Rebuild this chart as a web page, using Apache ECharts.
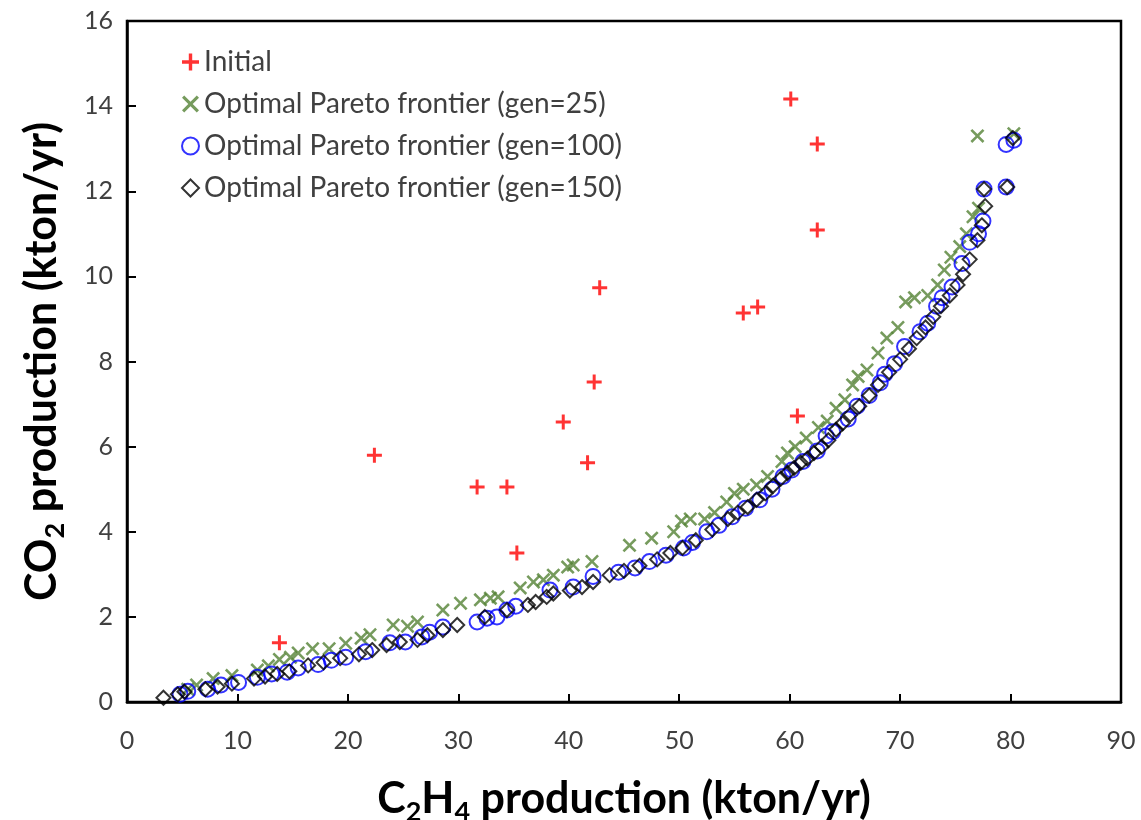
<!DOCTYPE html>
<html>
<head>
<meta charset="utf-8">
<script src="https://cdn.jsdelivr.net/npm/echarts@6/dist/echarts.min.js"></script>
<style>html,body{margin:0;padding:0;background:#fff;}#c{width:1141px;height:820px;}</style>
</head>
<body>
<div id="c"></div>
<script>
// ---- data (C2H4 production, CO2 production) ----
const initialPts = [
  [13.8,1.39],[22.4,5.80],[31.7,5.05],[34.4,5.05],[35.3,3.50],[39.5,6.58],[41.7,5.62],
  [42.3,7.52],[42.8,9.73],[55.8,9.14],[57.1,9.28],[60.7,6.72],[60.1,14.17],[62.5,13.11],[62.5,11.09]
];
const gen25Pts = [
  [5.5,0.3],[6.3,0.4],[7.8,0.55],[9.5,0.62],[11.8,0.75],[12.8,0.85],[13.8,1.0],[14.8,1.05],[15.5,1.15],
  [16.8,1.25],[18.3,1.25],[19.8,1.38],[21.2,1.5],[22,1.58],[24.1,1.81],[25.4,1.78],[26.3,1.88],[28.6,2.16],
  [30.2,2.32],[32,2.4],[32.9,2.44],[33.6,2.47],[35.6,2.68],[36.8,2.82],[37.7,2.87],[38.6,2.98],[39.9,3.17],
  [40.4,3.22],[42.1,3.3],[45.5,3.68],[47.5,3.85],[49.5,4.0],[50.2,4.25],[51,4.3],[52.3,4.3],[53.2,4.45],
  [54.3,4.7],[55,4.9],[55.8,5.0],[57,5.1],[58,5.3],[59.3,5.65],[59.8,5.85],[60.5,6.0],[61.5,6.2],[62.6,6.45],
  [63.4,6.6],[64.2,6.9],[65,7.1],[65.7,7.45],[66.2,7.65],[67,7.8],[68,8.2],[68.8,8.55],[69.8,8.8],[70.5,9.4],
  [71.3,9.5],[72.5,9.55],[73.4,9.8],[74,10.15],[74.6,10.45],[75.4,10.7],[76,11.0],[76.6,11.4],[77.1,11.6],
  [77,13.3],[80.3,13.35]
];
const gen100Pts = [
  [4.8,0.18],[5.5,0.25],[7.3,0.3],[8.5,0.4],[10.1,0.46],[11.8,0.58],[13.1,0.66],[14.5,0.7],[15.5,0.8],
  [17.3,0.88],[18.5,0.98],[19.8,1.05],[21.6,1.18],[23.8,1.39],[25.2,1.41],[26.7,1.53],[27.4,1.64],[28.6,1.76],
  [31.7,1.88],[32.6,1.97],[33.5,2.0],[34.4,2.16],[35.2,2.25],[38.3,2.63],[40.4,2.7],[42.2,2.95],[44.5,3.05],
  [46,3.15],[47.3,3.3],[48.8,3.45],[50.4,3.62],[51.2,3.75],[52.5,4.0],[53.6,4.15],[54.8,4.35],[56,4.55],
  [57.3,4.75],[58.4,5.0],[59.4,5.3],[60.2,5.45],[61.2,5.65],[62.5,5.9],[63.3,6.25],[63.9,6.35],[65.3,6.65],
  [66.1,6.95],[67.2,7.2],[68.2,7.5],[68.6,7.7],[69.5,7.95],[70.4,8.35],[71.8,8.7],[72.5,8.9],[73.3,9.3],
  [73.8,9.5],[74.7,9.75],[75.6,10.3],[76.3,10.8],[77.1,11.0],[77.5,11.3],[77.6,12.05],[79.6,13.1],[80.3,13.2],[79.6,12.1]
];
const gen150Pts = [
  [3.3,0.1],[4.6,0.18],[5.2,0.24],[7.1,0.3],[8.2,0.36],[9.5,0.43],[11.5,0.55],[12.5,0.6],[13.6,0.66],[14.7,0.72],
  [16.4,0.86],[17.8,0.93],[19.3,1.03],[21,1.12],[22.2,1.22],[23.5,1.34],[24.7,1.41],[26.3,1.46],[27.2,1.57],
  [28.6,1.69],[29.9,1.81],[32.4,2.0],[34.4,2.16],[36.3,2.28],[37,2.35],[38,2.47],[38.6,2.55],[40.1,2.62],
  [41.2,2.7],[42.2,2.82],[43.7,2.98],[45,3.08],[46.4,3.2],[48,3.35],[49.2,3.5],[50.3,3.62],[51.5,3.8],[53,4.05],
  [54.4,4.3],[55.3,4.45],[56.2,4.58],[57,4.75],[57.8,4.9],[58.5,5.08],[59.2,5.25],[59.8,5.38],[60.4,5.5],
  [61,5.62],[61.6,5.72],[62.2,5.85],[62.9,6.0],[63.5,6.15],[64.2,6.4],[64.8,6.55],[65.5,6.75],[66.3,6.95],
  [67.2,7.2],[68,7.45],[69,7.75],[70,8.05],[70.8,8.3],[71.5,8.55],[72.3,8.8],[73,9.05],[73.7,9.3],[74.5,9.55],
  [75.2,9.8],[75.7,10.05],[76.3,10.4],[77,10.85],[77.4,11.2],[77.7,11.65],[77.6,12.05],[79.7,12.1],[80.2,13.25]
];
const seriesNames = [
  'Initial',
  'Optimal Pareto frontier (gen=25)',
  'Optimal Pareto frontier (gen=100)',
  'Optimal Pareto frontier (gen=150)'
];
const xTicks = {min: 0, max: 90, interval: 10};
const yTicks = {min: 0, max: 16, interval: 2};

const plusPath = 'path://M4,0h2v4h4v2h-4v4h-2v-4h-4v-2h4z';
const crossPath = 'path://M0,1.3L1.3,0L5,3.7L8.7,0L10,1.3L6.3,5L10,8.7L8.7,10L5,6.3L1.3,10L0,8.7L3.7,5Z';
const FONT = 'Lato';
const chart = echarts.init(document.getElementById('c'), null, {renderer: 'canvas'});
const titleRich = {
  b: {fontFamily: FONT, fontWeight: 'bold', fontSize: 43, color: '#000', lineHeight: 54},
  s: {fontFamily: FONT, fontWeight: 'bold', fontSize: 27, color: '#000', lineHeight: 27, verticalAlign: 'bottom'}
};
chart.setOption({
  animation: false,
  backgroundColor: '#fff',
  grid: {left: 127, right: 20, top: 21, bottom: 118, containLabel: false, outerBoundsMode: 'none',
         show: true, borderColor: '#000', borderWidth: 2.5, backgroundColor: 'transparent'},
  legend: {
    orient: 'vertical', left: 176, top: 40,
    itemWidth: 17, itemHeight: 17, itemGap: 8,
    textStyle: {fontFamily: FONT, fontSize: 28, color: '#404040', lineHeight: 34},
    data: seriesNames
  },
  xAxis: {
    type: 'value', min: xTicks.min, max: xTicks.max, interval: xTicks.interval,
    axisLine: {show: true, lineStyle: {color: '#000', width: 2.5}},
    axisTick: {show: true, inside: true, length: 8, lineStyle: {color: '#000', width: 2}},
    axisLabel: {fontFamily: FONT, fontSize: 25, color: '#404040', margin: 26},
    splitLine: {show: false},
    name: '{b|C}{s|2}{b|H}{s|4}{b| production (kton/yr)}',
    nameLocation: 'middle', nameGap: 70,
    nameTextStyle: {rich: titleRich}
  },
  yAxis: {
    type: 'value', min: yTicks.min, max: yTicks.max, interval: yTicks.interval,
    axisLine: {show: true, lineStyle: {color: '#000', width: 2.5}},
    axisTick: {show: true, inside: true, length: 9, lineStyle: {color: '#000', width: 2}},
    axisLabel: {fontFamily: FONT, fontSize: 25, color: '#404040', margin: 14},
    splitLine: {show: false},
    name: '{b|CO}{s|2}{b| production (kton/yr)}',
    nameLocation: 'middle', nameGap: 58,
    nameTextStyle: {rich: titleRich}
  },
  series: [
    {
      name: seriesNames[0], type: 'scatter', data: initialPts, z: 5,
      symbol: plusPath, symbolSize: 15,
      itemStyle: {color: '#ff0000'}
    },
    {
      name: seriesNames[1], type: 'scatter', data: gen25Pts, z: 2,
      symbol: crossPath, symbolSize: 14,
      itemStyle: {color: '#548235'}
    },
    {
      name: seriesNames[2], type: 'scatter', data: gen100Pts, z: 3,
      symbol: 'circle', symbolSize: 15,
      itemStyle: {color: 'transparent', borderColor: '#0000ff', borderWidth: 2}
    },
    {
      name: seriesNames[3], type: 'scatter', data: gen150Pts, z: 4,
      symbol: 'diamond', symbolSize: 14,
      itemStyle: {color: 'transparent', borderColor: '#000000', borderWidth: 2}
    }
  ]
});
</script>
</body>
</html>
